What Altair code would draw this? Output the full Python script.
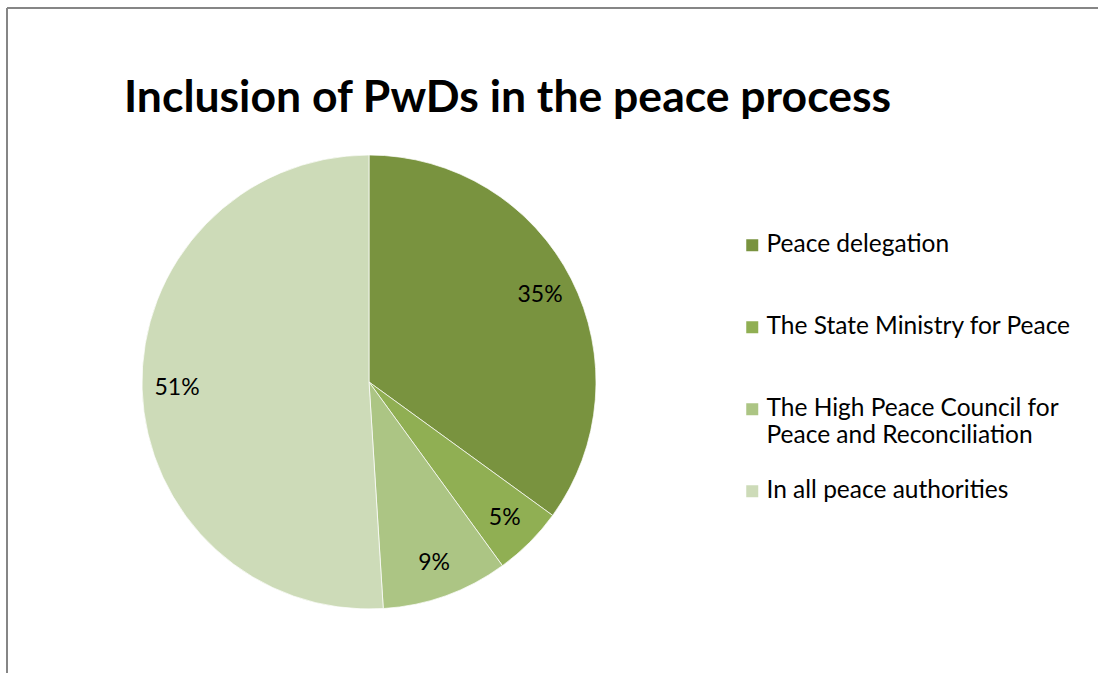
import altair as alt
import pandas as pd

categories = [
    "Peace delegation",
    "The State Ministry for Peace",
    "The High Peace  Council for Peace and Reconciliation",
    "In all peace authorities",
]
values = [35, 5, 9, 51]
labels = ["35%", "5%", "9%", "51%"]
colors = ["#79933F", "#90AF53", "#ACC584", "#CDDBB8"]
order = [0, 1, 2, 3]

df = pd.DataFrame({"category": categories, "value": values, "label": labels, "order": order})

W, H = 1091, 665
CX, CY = 362, 374

label_expr = (
    "datum.label == 'The High Peace  Council for Peace and Reconciliation' ? "
    "['The High Peace  Council for', 'Peace and Reconciliation'] : [datum.label, '']"
)

base = alt.Chart(df).encode(
    theta=alt.Theta("value:Q", stack=True),
    order=alt.Order("order:Q"),
)

pie = base.mark_arc(radius=227, x=CX, y=CY, stroke="#ffffff", strokeWidth=0.7).encode(
    color=alt.Color(
        "category:N",
        scale=alt.Scale(domain=categories, range=colors),
        sort=categories,
        legend=alt.Legend(
            title=None,
            orient="none",
            legendX=733,
            legendY=225,
            symbolType="square",
            symbolSize=144,
            symbolStrokeWidth=0,
            labelFont="Lato",
            labelFontSize=24.5,
            labelColor="#000000",
            labelOffset=2,
            labelLimit=400,
            rowPadding=30,
            labelExpr=label_expr,
        ),
    )
)

text = base.mark_text(radius=192, x=CX, y=CY, font="Lato", fontSize=23, color="#000000").encode(
    text="label:N"
)

border_df = pd.DataFrame({"k": [0]})
top_rule = alt.Chart(border_df).mark_rule(color="#868686", strokeWidth=2).encode(
    x=alt.value(0), x2=alt.value(W), y=alt.value(0)
)
left_rule = alt.Chart(border_df).mark_rule(color="#868686", strokeWidth=2).encode(
    x=alt.value(0), y=alt.value(0), y2=alt.value(H)
)

chart = (
    alt.layer(pie, text, top_rule, left_rule)
    .properties(
        width=W,
        height=H,
        autosize="none",
        padding={"left": 7, "top": 8, "right": 0, "bottom": 0},
        title=alt.TitleParams(
            "Inclusion of PwDs in the peace process",
            anchor="start",
            frame="group",
            dx=117,
            dy=149,
            offset=0,
            baseline="alphabetic",
            font="Lato",
            fontSize=44.5,
            fontWeight="bold",
            color="#000000",
        ),
    )
    .configure_view(stroke=None)
)

chart.save("out.html", embed_options={"renderer": "svg", "actions": False})
